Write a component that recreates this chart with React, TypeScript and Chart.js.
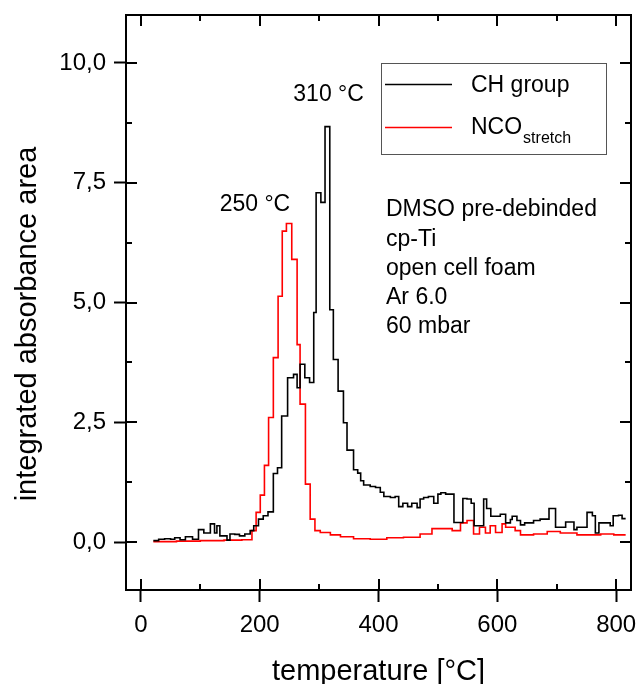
import React, { useEffect, useRef } from "react";
import { Chart, registerables } from "chart.js";

Chart.register(...registerables);

// CH group (black) – step bins: start temperature [°C] and integrated absorbance
const chTemps = [21, 30, 40, 50, 57, 66, 75, 87, 97, 106, 117, 124, 128, 133, 140, 145, 150, 158, 166, 175, 184, 190, 198, 206, 214, 223, 230, 237, 247, 257, 263, 268, 276, 284, 291, 295, 303, 310, 318, 324, 332, 341, 347, 358, 365, 370, 375, 386, 395, 403, 409, 420, 428, 434, 441, 449, 456, 465, 470, 476, 484, 493, 500, 505, 513, 520, 527, 535, 542, 549, 556, 561, 577, 582, 589, 605, 614, 622, 625, 633, 639, 646, 661, 672, 687, 698, 715, 729, 734, 751, 760, 765, 771, 790, 795, 804, 810, 816];
const chValues = [0.03, 0.06, 0.07, 0.06, 0.09, 0.05, 0.11, 0.06, 0.26, 0.19, 0.38, 0.19, 0.34, 0.13, 0.13, 0.04, 0.17, 0.16, 0.13, 0.17, 0.24, 0.34, 0.48, 0.55, 0.63, 1.43, 1.55, 2.63, 3.43, 3.5, 3.22, 3.71, 3.43, 3.33, 4.79, 7.29, 7.09, 8.67, 4.85, 3.81, 3.15, 2.49, 1.92, 1.51, 1.44, 1.28, 1.19, 1.16, 1.14, 1.04, 0.95, 0.93, 0.95, 0.74, 0.81, 0.74, 0.81, 0.72, 0.9, 0.93, 0.95, 0.81, 1.0, 1.03, 1.0, 1.0, 0.41, 0.41, 0.91, 0.9, 0.81, 0.34, 0.9, 0.7, 0.54, 0.58, 0.4, 0.47, 0.54, 0.45, 0.36, 0.4, 0.45, 0.48, 0.7, 0.31, 0.42, 0.26, 0.31, 0.62, 0.55, 0.19, 0.4, 0.34, 0.55, 0.56, 0.49, 0.49];

// NCO stretch (red)
const ncoTemps = [21, 60, 100, 140, 170, 187, 194, 201, 208, 215, 223, 231, 238, 245, 254, 263, 268, 277, 285, 293, 302, 319, 336, 358, 386, 414, 442, 470, 490, 524, 538, 549, 560, 570, 580, 588, 597, 608, 614, 630, 639, 661, 684, 706, 734, 774, 796, 816];
const ncoValues = [0.01, 0.02, 0.03, 0.04, 0.05, 0.24, 0.62, 0.98, 1.6, 2.6, 3.85, 5.13, 6.49, 6.65, 5.9, 4.12, 2.88, 1.21, 0.48, 0.24, 0.2, 0.15, 0.11, 0.07, 0.06, 0.09, 0.1, 0.17, 0.28, 0.24, 0.4, 0.45, 0.17, 0.31, 0.19, 0.34, 0.2, 0.38, 0.31, 0.24, 0.15, 0.17, 0.22, 0.19, 0.15, 0.17, 0.15, 0.15];

const xTicks = [0, 200, 400, 600, 800];
const xMinorTicks = [100, 300, 500, 700];
const yTicks = [0, 2.5, 5, 7.5, 10];
const yMinorTicks = [1.25, 3.75, 6.25, 8.75];

const xTitle = "temperature [°C]";
const yTitle = "integrated absorbance area";
const seriesNames = ["CH group", "NCO", "stretch"];
const peakLabels = ["250 °C", "310 °C"];
const peakLabelPos = [[192, 7.04], [316, 9.34]];
const sampleLines = ["DMSO pre-debinded", "cp-Ti", "open cell foam", "Ar 6.0", "60 mbar"];

const FONT = '"Liberation Sans", Arial, sans-serif';

const decorPlugin = {
  id: "decor",
  afterDraw(chart: any) {
    const { ctx, chartArea: a, scales } = chart;
    const xs = scales.x;
    const ys = scales.y;
    ctx.save();
    ctx.strokeStyle = "#000";
    ctx.lineWidth = 2;
    const seg = (x1: number, y1: number, x2: number, y2: number) => {
      ctx.beginPath();
      ctx.moveTo(x1, y1);
      ctx.lineTo(x2, y2);
      ctx.stroke();
    };
    // top & right frame
    seg(a.left - 1, a.top, a.right + 1, a.top);
    seg(a.right, a.top, a.right, a.bottom + 1);
    const major = 11;
    const minor = 6;
    xTicks.forEach((v) => {
      const p = Math.round(xs.getPixelForValue(v));
      seg(p, a.bottom, p, a.bottom - major);
      seg(p, a.top, p, a.top + major);
    });
    xMinorTicks.forEach((v) => {
      const p = Math.round(xs.getPixelForValue(v));
      seg(p, a.bottom, p, a.bottom - minor);
      seg(p, a.top, p, a.top + minor);
    });
    yTicks.forEach((v) => {
      const p = Math.round(ys.getPixelForValue(v));
      seg(a.left, p, a.left + major, p);
      seg(a.right, p, a.right - major, p);
    });
    yMinorTicks.forEach((v) => {
      const p = Math.round(ys.getPixelForValue(v));
      seg(a.left, p, a.left + minor, p);
      seg(a.right, p, a.right - minor, p);
    });

    // axis titles
    ctx.fillStyle = "#000";
    ctx.font = `29px ${FONT}`;
    ctx.textAlign = "center";
    ctx.textBaseline = "alphabetic";
    ctx.fillText(xTitle, (a.left + a.right) / 2, 680);
    ctx.save();
    ctx.translate(28, 324);
    ctx.rotate(-Math.PI / 2);
    ctx.textBaseline = "middle";
    ctx.fillText(yTitle, 0, 0);
    ctx.restore();

    // legend
    ctx.lineWidth = 1;
    ctx.strokeStyle = "#555";
    ctx.strokeRect(381.5, 63.5, 225, 91);
    ctx.lineWidth = 1.5;
    ctx.strokeStyle = "#000";
    seg(385, 84.5, 452, 84.5);
    ctx.strokeStyle = "#ff0000";
    seg(385, 127.5, 452, 127.5);
    ctx.fillStyle = "#000";
    ctx.textBaseline = "middle";
    ctx.textAlign = "left";
    ctx.font = `23px ${FONT}`;
    ctx.fillText(seriesNames[0], 471, 86);
    ctx.fillText(seriesNames[1], 471, 128);
    const w = ctx.measureText(seriesNames[1]).width;
    ctx.font = `16px ${FONT}`;
    ctx.fillText(seriesNames[2], 471 + w + 1, 139);

    // peak labels
    ctx.font = `23px ${FONT}`;
    ctx.textAlign = "center";
    peakLabels.forEach((t, i) => {
      ctx.fillText(t, xs.getPixelForValue(peakLabelPos[i][0]), ys.getPixelForValue(peakLabelPos[i][1]));
    });

    // sample description
    ctx.textAlign = "left";
    sampleLines.forEach((t, i) => {
      ctx.fillText(t, 386, 210 + i * 29.2);
    });
    ctx.restore();
  },
};

export default function App() {
  const ref = useRef<HTMLCanvasElement | null>(null);
  useEffect(() => {
    if (!ref.current) return;
    const chart = new Chart(ref.current, {
      type: "line",
      data: {
        datasets: [
          {
            label: seriesNames[0],
            data: chTemps.map((t, i) => ({ x: t, y: chValues[i] })),
            borderColor: "#000000",
            borderWidth: 1.6,
            pointRadius: 0,
            stepped: true,
            fill: false,
          },
          {
            label: seriesNames[1] + seriesNames[2],
            data: ncoTemps.map((t, i) => ({ x: t, y: ncoValues[i] })),
            borderColor: "#ff0000",
            borderWidth: 1.6,
            pointRadius: 0,
            stepped: true,
            fill: false,
          },
        ],
      },
      options: {
        animation: false,
        responsive: false,
        maintainAspectRatio: false,
        layout: { padding: { top: 15, right: 7, left: 0, bottom: 0 } },
        plugins: { legend: { display: false }, tooltip: { enabled: false } },
        scales: {
          x: {
            type: "linear",
            min: -25,
            max: 825,
            afterBuildTicks: (s: any) => {
              s.ticks = xTicks.map((v) => ({ value: v }));
            },
            afterFit: (s: any) => {
              s.height = 94;
              s.paddingLeft = 0;
              s.paddingRight = 0;
            },
            grid: {
              drawOnChartArea: false,
              drawTicks: true,
              tickLength: 12,
              tickWidth: 2,
              tickColor: "#000",
            },
            border: { display: true, color: "#000", width: 2 },
            ticks: {
              color: "#000",
              font: { family: FONT, size: 24 },
              padding: 9,
              maxRotation: 0,
              callback: (v: any) => String(v),
            },
            title: { display: false },
          },
          y: {
            type: "linear",
            min: -1,
            max: 11,
            afterBuildTicks: (s: any) => {
              s.ticks = yTicks.map((v) => ({ value: v }));
            },
            afterFit: (s: any) => {
              s.width = 126;
              s.paddingTop = 0;
              s.paddingBottom = 0;
            },
            grid: {
              drawOnChartArea: false,
              drawTicks: true,
              tickLength: 12,
              tickWidth: 2,
              tickColor: "#000",
            },
            border: { display: true, color: "#000", width: 2 },
            ticks: {
              color: "#000",
              font: { family: FONT, size: 24 },
              padding: 8,
              callback: (v: any) => Number(v).toFixed(1).replace(".", ","),
            },
            title: { display: false },
          },
        },
      },
      plugins: [decorPlugin],
    });
    return () => chart.destroy();
  }, []);
  return (
    <div style={{ position: "fixed", left: 0, top: 0, width: 638, height: 684, background: "#fff" }}>
      <canvas ref={ref} width={638} height={684} style={{ display: "block" }} />
    </div>
  );
}
